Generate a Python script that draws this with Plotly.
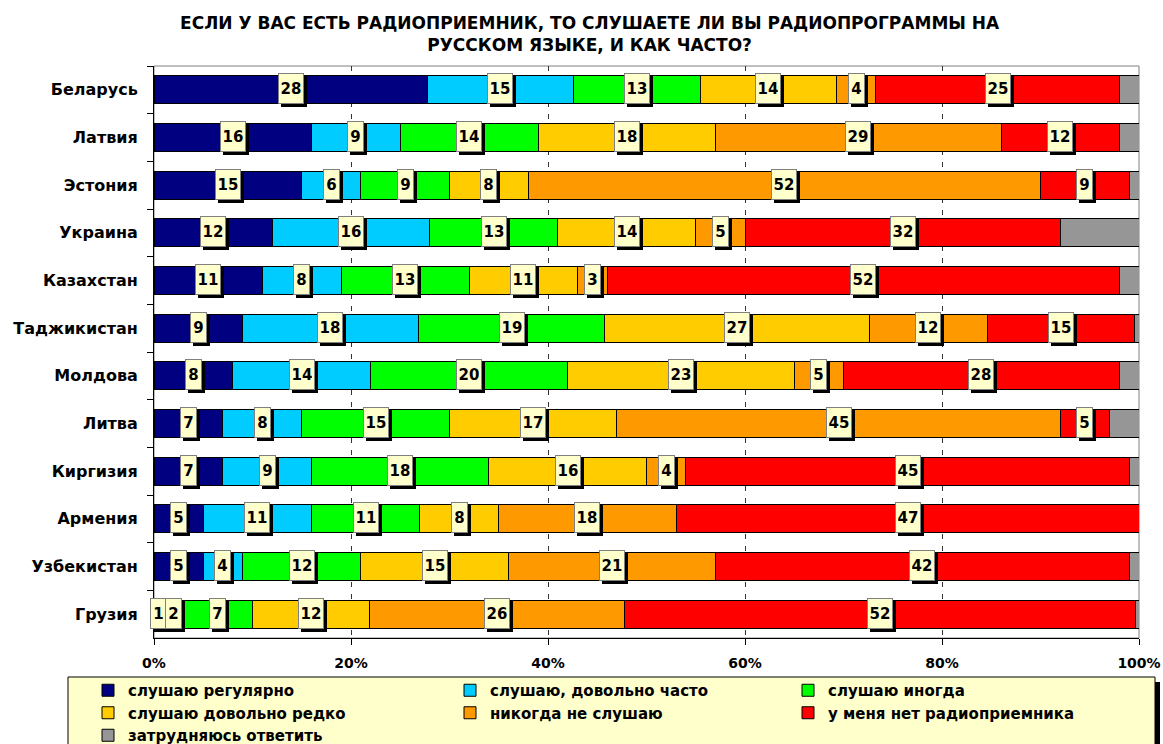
import plotly.graph_objects as go

countries = ['Беларусь', 'Латвия', 'Эстония', 'Украина', 'Казахстан', 'Таджикистан',
             'Молдова', 'Литва', 'Киргизия', 'Армения', 'Узбекистан', 'Грузия']

series_names = ['слушаю регулярно', 'слушаю, довольно часто', 'слушаю иногда',
                'слушаю довольно редко', 'никогда не слушаю', 'у меня нет радиоприемника',
                'затрудняюсь ответить']

regular = [28, 16, 15, 12, 11, 9, 8, 7, 7, 5, 5, 1]
often = [15, 9, 6, 16, 8, 18, 14, 8, 9, 11, 4, 2]
sometimes = [13, 14, 9, 13, 13, 19, 20, 15, 18, 11, 12, 7]
rarely = [14, 18, 8, 14, 11, 27, 23, 17, 16, 8, 15, 12]
never = [4, 29, 52, 5, 3, 12, 5, 45, 4, 18, 21, 26]
no_radio = [25, 12, 9, 32, 52, 15, 28, 5, 45, 47, 42, 52]
hard = [2, 2, 1, 8, 2, 0.5, 2, 3, 1, 0, 1, 0.4]

colors = ['#000080', '#00CCFF', '#00FF00', '#FFCC00', '#FF9900', '#FF0000', '#969696']

all_series = [regular, often, sometimes, rarely, never, no_radio, hard]
labeled = [True, True, True, True, True, True, False]
# legend column for each series (3 columns, filled row by row as in the reference)
legend_cols = ['legend', 'legend2', 'legend3', 'legend', 'legend2', 'legend3', 'legend']

FONT = 'DejaVu Sans, Liberation Sans, Arial, sans-serif'
W, H = 1163, 744
L, R, T, B = 154, 1139, 66, 638  # plot area in pixels
PW, PH = R - L, B - T


def px_x(p):
    return (p - L) / PW


def px_y(p):
    return (B - p) / PH


fig = go.Figure()
for name, vals, col, lg in zip(series_names, all_series, colors, legend_cols):
    fig.add_trace(go.Bar(
        y=countries, x=vals, name='<b>' + name + '</b>', orientation='h',
        marker=dict(color=col, line=dict(color='#000000', width=1)),
        legend=lg,
        hovertemplate='%{y}: %{x}<extra>' + name + '</extra>'
    ))

# labels (centered in normalized segments)
totals = [sum(s[i] for s in all_series) for i in range(len(countries))]
annotations = []
for i, c in enumerate(countries):
    cum = 0.0
    for s, lab in zip(all_series, labeled):
        v = s[i]
        if lab and v > 0:
            center = (cum + v / 2.0) / totals[i] * 100.0
            w = 20 if v >= 10 else 11
            common = dict(x=center, y=c, xref='x', yref='y', showarrow=False,
                          width=w, height=25, borderpad=2, borderwidth=1,
                          font=dict(family=FONT, size=15, color='#000000'))
            # shadow box (no text)
            annotations.append(dict(common, text=' ', bgcolor='#000000',
                                    bordercolor='#000000', xshift=3, yshift=-2))
            annotations.append(dict(common, text='<b>%d</b>' % v, bgcolor='#FFFFCC',
                                    bordercolor='#808080', yshift=1))
        cum += v

shapes = [
    # plot area border
    dict(type='rect', xref='paper', yref='paper', x0=0, x1=1, y0=0, y1=1,
         line=dict(color='#808080', width=1), layer='below'),
    # legend shadow and box
    dict(type='rect', xref='paper', yref='paper',
         x0=px_x(73), x1=px_x(1160), y0=px_y(760), y1=px_y(682),
         fillcolor='#000000', line=dict(width=0), layer='below'),
    dict(type='rect', xref='paper', yref='paper',
         x0=px_x(68), x1=px_x(1155), y0=px_y(760), y1=px_y(677),
         fillcolor='#FFFFCC', line=dict(color='#000000', width=1), layer='below'),
]

legend_common = dict(
    orientation='v', xref='container', yref='container',
    xanchor='left', yanchor='top', y=1 - 674 / H,
    bgcolor='rgba(0,0,0,0)', borderwidth=0,
    font=dict(family=FONT, size=15, color='#000000'),
    traceorder='normal', itemwidth=30, tracegroupgap=0)

fig.update_layout(
    barmode='stack', barnorm='percent', bargap=0.41,
    width=W, height=H,
    margin=dict(l=L, r=W - R, t=T, b=H - B, autoexpand=False),
    paper_bgcolor='white', plot_bgcolor='rgba(0,0,0,0)',
    font=dict(family=FONT, color='#000000'),
    title=dict(
        text='<b>ЕСЛИ У ВАС ЕСТЬ РАДИОПРИЕМНИК, ТО СЛУШАЕТЕ ЛИ ВЫ РАДИОПРОГРАММЫ НА<br>РУССКОМ ЯЗЫКЕ, И КАК ЧАСТО?</b>',
        x=0.507, xref='container', xanchor='center', y=0.961, yref='container', yanchor='top',
        font=dict(family=FONT, size=17, color='#000000')),
    xaxis=dict(
        range=[0, 100], tickvals=[0, 20, 40, 60, 80, 100],
        ticktext=['<b>0%</b>', '<b>20%</b>', '<b>40%</b>', '<b>60%</b>', '<b>80%</b>', '<b>100%</b>'],
        ticks='outside', ticklen=6, tickcolor='#000000',
        showline=True, linecolor='#000000', linewidth=1,
        showgrid=True, gridcolor='#333333', griddash='5px,7px', gridwidth=1,
        zeroline=False, tickfont=dict(family=FONT, size=14, color='#000000'),
        ticklabelstandoff=6, automargin=False, fixedrange=True),
    yaxis=dict(
        categoryorder='array', categoryarray=countries, autorange='reversed',
        ticks='outside', ticklen=6, tickcolor='#000000', tickson='boundaries',
        showline=True, linecolor='#000000', linewidth=1,
        tickfont=dict(family=FONT, size=16, color='#000000'),
        ticklabelstandoff=12, automargin=False,
        tickprefix='<b>', ticksuffix='</b>', fixedrange=True),
    legend=dict(legend_common, x=88 / W),
    legend2=dict(legend_common, x=450 / W),
    legend3=dict(legend_common, x=788 / W),
    annotations=annotations,
    shapes=shapes,
    showlegend=True,
)

fig.write_html('out.html', config={'displayModeBar': False},
               post_script="document.body.style.margin='0';document.body.style.overflow='hidden';")
